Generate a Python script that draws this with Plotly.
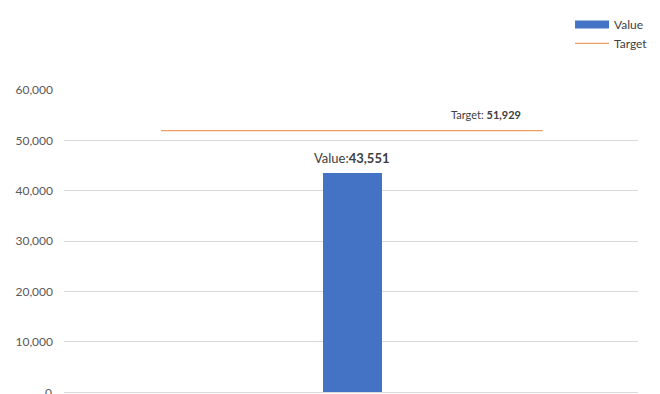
import plotly.graph_objects as go

# Data
series_names = ["Value", "Target"]
values = [43551]
target = [51929]
y_ticks = [0, 10000, 20000, 30000, 40000, 50000, 60000]
y_tick_labels = ["0", "10,000", "20,000", "30,000", "40,000", "50,000", "60,000"]

# Layout constants (positions in a 0..1 x-domain)
BAR_X = 0.5026
BAR_W = 0.103
LINE_X0, LINE_X1 = 0.169, 0.834

FONT = "Lato, 'Open Sans', sans-serif"
GRAY = "#595959"
BLUE = "#4472C4"
ORANGE = "#ED9D61"

# The page body has an 8px margin, so the figure is sized/offset to compensate
W, H = 652, 386

fig = go.Figure()
fig.add_trace(go.Bar(
    x=[BAR_X], y=values, width=BAR_W, name=series_names[0],
    marker=dict(color=BLUE, line=dict(width=0)), showlegend=False,
))
# legend proxy for the bar (wide rectangle swatch)
fig.add_trace(go.Scatter(
    x=[None], y=[None], mode="lines", name=series_names[0],
    line=dict(color=BLUE, width=8),
))
fig.add_trace(go.Scatter(
    x=[LINE_X0, LINE_X1], y=[target[0], target[0]], mode="lines",
    name=series_names[1], line=dict(color=ORANGE, width=1.2),
))

fig.add_annotation(
    x=BAR_X, y=values[0], xref="x", yref="y",
    text=f"Value:<b>{values[0]:,}</b>", showarrow=False,
    yanchor="bottom", yshift=5, font=dict(size=13, color="#404040", family=FONT),
)
fig.add_annotation(
    x=0.8, y=target[0], xref="x", yref="y",
    text=f"Target: <b>{target[0]:,}</b>", showarrow=False,
    xanchor="right", yanchor="bottom", yshift=8,
    font=dict(size=11, color="#404040", family=FONT),
)
# "0" tick label, partly cut by the bottom edge as in the reference
fig.add_annotation(
    x=0, y=y_ticks[0], xref="paper", yref="y",
    text=y_tick_labels[0], showarrow=False,
    xanchor="right", yanchor="middle", xshift=-10,
    font=dict(size=12, color=GRAY, family=FONT),
)

fig.update_layout(
    width=W, height=H,
    margin=dict(l=56, r=22, t=82, b=2, autoexpand=False),
    paper_bgcolor="white", plot_bgcolor="white",
    font=dict(family=FONT, color=GRAY, size=12),
    showlegend=True,
    legend=dict(
        xref="container", yref="container",
        x=0.862, xanchor="left", y=0.995, yanchor="top",
        bgcolor="rgba(0,0,0,0)", font=dict(size=12, color="#404040"),
        tracegroupgap=0, itemwidth=34,
    ),
    bargap=0,
)
fig.update_xaxes(range=[0, 1], visible=False, fixedrange=True)
fig.update_yaxes(
    range=[0, 60000], tickvals=y_ticks, ticktext=y_tick_labels,
    showgrid=True, gridcolor="#D9D9D9", gridwidth=1,
    zeroline=True, zerolinecolor="#D9D9D9", zerolinewidth=1,
    showline=False, ticks="", ticklabelstandoff=10,
    tickfont=dict(size=12, color=GRAY), fixedrange=True,
)

fig.write_html("out.html")
